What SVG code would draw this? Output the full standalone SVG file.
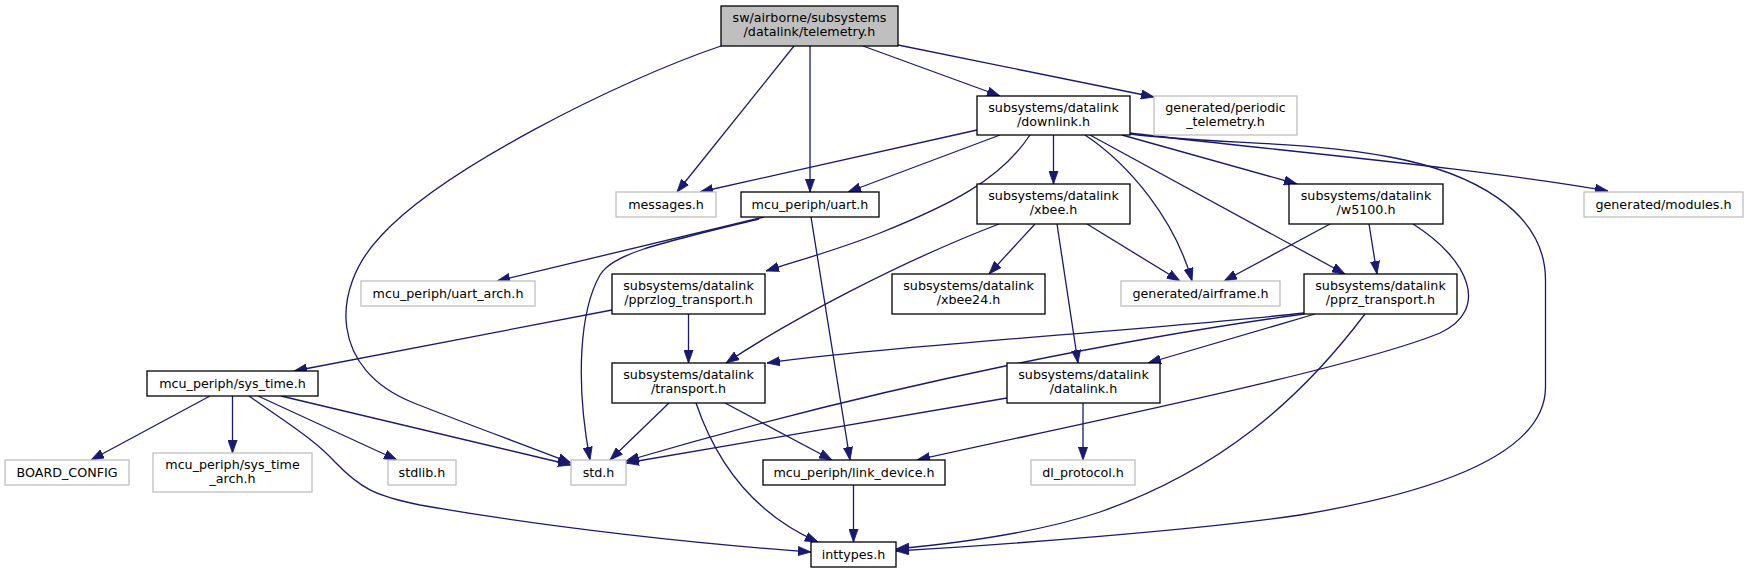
<svg xmlns="http://www.w3.org/2000/svg" width="1748" height="573" viewBox="0 0 1748 573">
<style>
.n rect{fill:#fff;stroke:#000;stroke-width:1.3}
.u rect{fill:#fff;stroke:#bfbfbf;stroke-width:1.3}
.r rect{fill:#bfbfbf;stroke:#000;stroke-width:1.3}
text{font-family:"DejaVu Sans",sans-serif;font-size:12.7px;fill:#000;text-anchor:middle}
#edges path{fill:none;stroke:#191970;stroke-width:1.3;marker-end:url(#ah)}
</style>
<defs>
<marker id="ah" markerUnits="userSpaceOnUse" markerWidth="14" markerHeight="10" refX="13" refY="5" orient="auto">
<path d="M0,0.4 L13,5 L0,9.6 z" fill="#191970" stroke="#191970" stroke-width="0.8"/>
</marker>
</defs>
<rect width="1748" height="573" fill="#fff"/>
<g id="edges">
<path d="M721,46 C620,80 440,170 380,237 C330,290 330,370 414,403 C464,423 530,447 571,463"/>
<path d="M794,46 L677,192"/>
<path d="M810,46 L810,192"/>
<path d="M863,46 L1000,96"/>
<path d="M898,45 L1154,97"/>
<path d="M977,130 L700,192"/>
<path d="M1000,135 L848,192"/>
<path d="M1030,135 C1000,180 950,205 880,233 C840,249 800,260 766,271"/>
<path d="M1053.5,135 L1053.5,184"/>
<path d="M1085,135 C1130,165 1175,220 1192,281"/>
<path d="M1090,135 L1345,274"/>
<path d="M1122,135 L1297,184"/>
<path d="M1130,133 C1250,148 1480,168 1608,191"/>
<path d="M1130,134 C1220,145 1300,140 1390,157 C1470,172 1545.5,210 1545.5,280 L1545.5,387 C1545.5,450 1450,490 1300,515 C1200,530 1000,545 896,551"/>
<path d="M999,224 C900,262 790,320 726,363"/>
<path d="M1035,224 L989,274"/>
<path d="M1057,224 L1078,363"/>
<path d="M1087,224 L1180,281"/>
<path d="M1330,224 L1224,281"/>
<path d="M1369,224 L1377,274"/>
<path d="M1413,224 C1470,260 1490,310 1440,333 C1350,370 1050,430 917,460"/>
<path d="M764,217 L497,281"/>
<path d="M759,219 C650,245 612,255 600,275 C580,310 575,380 590,460"/>
<path d="M811,217 L850,460"/>
<path d="M612,310 L294,371"/>
<path d="M688.5,314 L688.5,363"/>
<path d="M210,396 L91,460"/>
<path d="M232.5,396 L232.5,453"/>
<path d="M249,396 C290,425 315,440 335,462 C360,488 375,496 420,505 C550,528 700,544 811,552"/>
<path d="M258,396 L397,460"/>
<path d="M281,396 L571,465"/>
<path d="M669,403 L610,460"/>
<path d="M725,403 L832,460"/>
<path d="M696,403 C712,450 745,510 818,542"/>
<path d="M853.5,485 L853.5,542"/>
<path d="M1083,403 L1083,460"/>
<path d="M1007,398 L626,463"/>
<path d="M1304,313 C1150,330 900,345 767,363"/>
<path d="M1304,314 C1150,335 900,380 626,461"/>
<path d="M1315,314 L1148,363"/>
<path d="M1365,314 C1300,400 1220,470 1100,512 C1040,532 960,543 896,549"/>
</g>
<g id="telemetry" class="r"><rect x="721" y="6" width="177" height="40"/><text x="809.5" y="22">sw/airborne/subsystems</text><text x="809.5" y="36.3">/datalink/telemetry.h</text></g>
<g id="downlink" class="n"><rect x="977" y="96" width="153" height="39"/><text x="1053.5" y="111.5">subsystems/datalink</text><text x="1053.5" y="125.8">/downlink.h</text></g>
<g id="periodic" class="u"><rect x="1154" y="96" width="143" height="39"/><text x="1225.5" y="111.5">generated/periodic</text><text x="1225.5" y="125.8">_telemetry.h</text></g>
<g id="messages" class="u"><rect x="616" y="192" width="100" height="25"/><text x="666" y="208.5">messages.h</text></g>
<g id="uart" class="n"><rect x="741" y="192" width="138" height="25"/><text x="810" y="208.5">mcu_periph/uart.h</text></g>
<g id="xbee" class="n"><rect x="977" y="184" width="153" height="40"/><text x="1053.5" y="200">subsystems/datalink</text><text x="1053.5" y="214.3">/xbee.h</text></g>
<g id="w5100" class="n"><rect x="1289" y="184" width="154" height="40"/><text x="1366" y="200">subsystems/datalink</text><text x="1366" y="214.3">/w5100.h</text></g>
<g id="modules" class="u"><rect x="1584" y="192" width="159" height="25"/><text x="1663.5" y="208.5">generated/modules.h</text></g>
<g id="uart_arch" class="u"><rect x="361" y="281" width="174" height="25"/><text x="448" y="297.5">mcu_periph/uart_arch.h</text></g>
<g id="pprzlog" class="n"><rect x="612" y="274" width="153" height="40"/><text x="688.5" y="290">subsystems/datalink</text><text x="688.5" y="304.3">/pprzlog_transport.h</text></g>
<g id="xbee24" class="n"><rect x="892" y="274" width="153" height="40"/><text x="968.5" y="290">subsystems/datalink</text><text x="968.5" y="304.3">/xbee24.h</text></g>
<g id="airframe" class="u"><rect x="1121" y="281" width="159" height="25"/><text x="1200.5" y="297.5">generated/airframe.h</text></g>
<g id="pprz_transport" class="n"><rect x="1304" y="274" width="153" height="40"/><text x="1380.5" y="290">subsystems/datalink</text><text x="1380.5" y="304.3">/pprz_transport.h</text></g>
<g id="sys_time" class="n"><rect x="147" y="371" width="171" height="25"/><text x="232.5" y="387.5">mcu_periph/sys_time.h</text></g>
<g id="transport" class="n"><rect x="612" y="363" width="153" height="40"/><text x="688.5" y="379">subsystems/datalink</text><text x="688.5" y="393.3">/transport.h</text></g>
<g id="datalink" class="n"><rect x="1007" y="363" width="153" height="40"/><text x="1083.5" y="379">subsystems/datalink</text><text x="1083.5" y="393.3">/datalink.h</text></g>
<g id="board_config" class="u"><rect x="5" y="460" width="124" height="25"/><text x="67" y="476.5">BOARD_CONFIG</text></g>
<g id="sys_time_arch" class="u"><rect x="153" y="453" width="159" height="39"/><text x="232.5" y="468.5">mcu_periph/sys_time</text><text x="232.5" y="482.8">_arch.h</text></g>
<g id="stdlib" class="u"><rect x="388" y="460" width="68" height="25"/><text x="422" y="476.5">stdlib.h</text></g>
<g id="std" class="u"><rect x="571" y="460" width="55" height="25"/><text x="598.5" y="476.5">std.h</text></g>
<g id="link_device" class="n"><rect x="763" y="460" width="182" height="25"/><text x="854" y="476.5">mcu_periph/link_device.h</text></g>
<g id="dl_protocol" class="u"><rect x="1031" y="460" width="104" height="25"/><text x="1083" y="476.5">dl_protocol.h</text></g>
<g id="inttypes" class="n"><rect x="811" y="542" width="85" height="25"/><text x="853.5" y="558.5">inttypes.h</text></g>
</svg>
